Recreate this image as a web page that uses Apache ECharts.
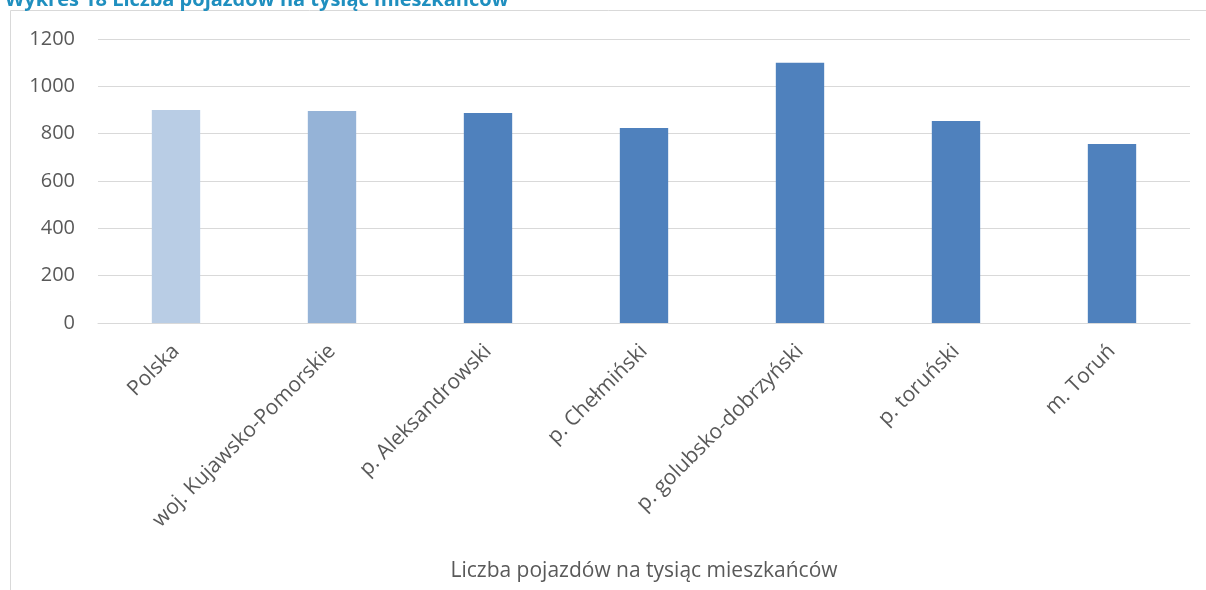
<!DOCTYPE html>
<html>
<head>
<meta charset="utf-8">
<script src="https://cdn.jsdelivr.net/npm/echarts@6/dist/echarts.min.js"></script>
<style>
  html, body { margin: 0; padding: 0; background: #fff; }
  #chart { width: 1206px; height: 590px; }
</style>
</head>
<body>
<div id="chart"></div>
<script>
// dane z wykresu
const categories = ['Polska', 'woj. Kujawsko-Pomorskie', 'p. Aleksandrowski', 'p. Chełmiński',
  'p. golubsko-dobrzyński', 'p. toruński', 'm. Toruń'];
const values = [900, 896, 887, 824, 1100, 853, 756];
const barColors = ['#b9cde5', '#95b3d7', '#4f81bd', '#4f81bd', '#4f81bd', '#4f81bd', '#4f81bd'];
const yTicks = [0, 200, 400, 600, 800, 1000, 1200];

const chart = echarts.init(document.getElementById('chart'));
const font = '"Open Sans", sans-serif';

const option = {
  animation: false,
  textStyle: { fontFamily: font },
  title: {
    text: 'Wykres 18 Liczba pojazdów na tysiąc mieszkańców',
    left: 0,
    top: -15,
    textStyle: { color: '#1f8fbf', fontSize: 20, fontWeight: 'bold', fontFamily: font }
  },
  graphic: [
    // ramka wykresu
    { type: 'line', shape: { x1: 10.5, y1: 10.5, x2: 1206, y2: 10.5 }, style: { stroke: '#d9d9d9', lineWidth: 1 } },
    { type: 'line', shape: { x1: 10.5, y1: 10.5, x2: 10.5, y2: 590 }, style: { stroke: '#d9d9d9', lineWidth: 1 } }
  ],
  grid: { left: 98, right: 16, top: 39, bottom: 267, containLabel: false },
  xAxis: {
    type: 'category',
    data: categories,
    name: 'Liczba pojazdów na tysiąc mieszkańców',
    nameLocation: 'middle',
    nameGap: 238,
    nameTextStyle: { color: '#595959', fontSize: 21, fontFamily: font },
    axisTick: { show: false },
    axisLine: { lineStyle: { color: '#d9d9d9', width: 1 } },
    axisLabel: { rotate: 45, color: '#595959', fontSize: 21, margin: 25, interval: 0 }
  },
  yAxis: {
    type: 'value',
    min: yTicks[0],
    max: yTicks[yTicks.length - 1],
    interval: 200,
    axisLine: { show: false },
    axisTick: { show: false },
    splitLine: { lineStyle: { color: '#d9d9d9', width: 1 } },
    axisLabel: { color: '#595959', fontSize: 20, margin: 23, formatter: v => String(v) }
  },
  series: [{
    type: 'bar',
    data: values.map((v, i) => ({ value: v, itemStyle: { color: barColors[i] } })),
    barWidth: '31%'
  }]
};

chart.setOption(option);
</script>
</body>
</html>
